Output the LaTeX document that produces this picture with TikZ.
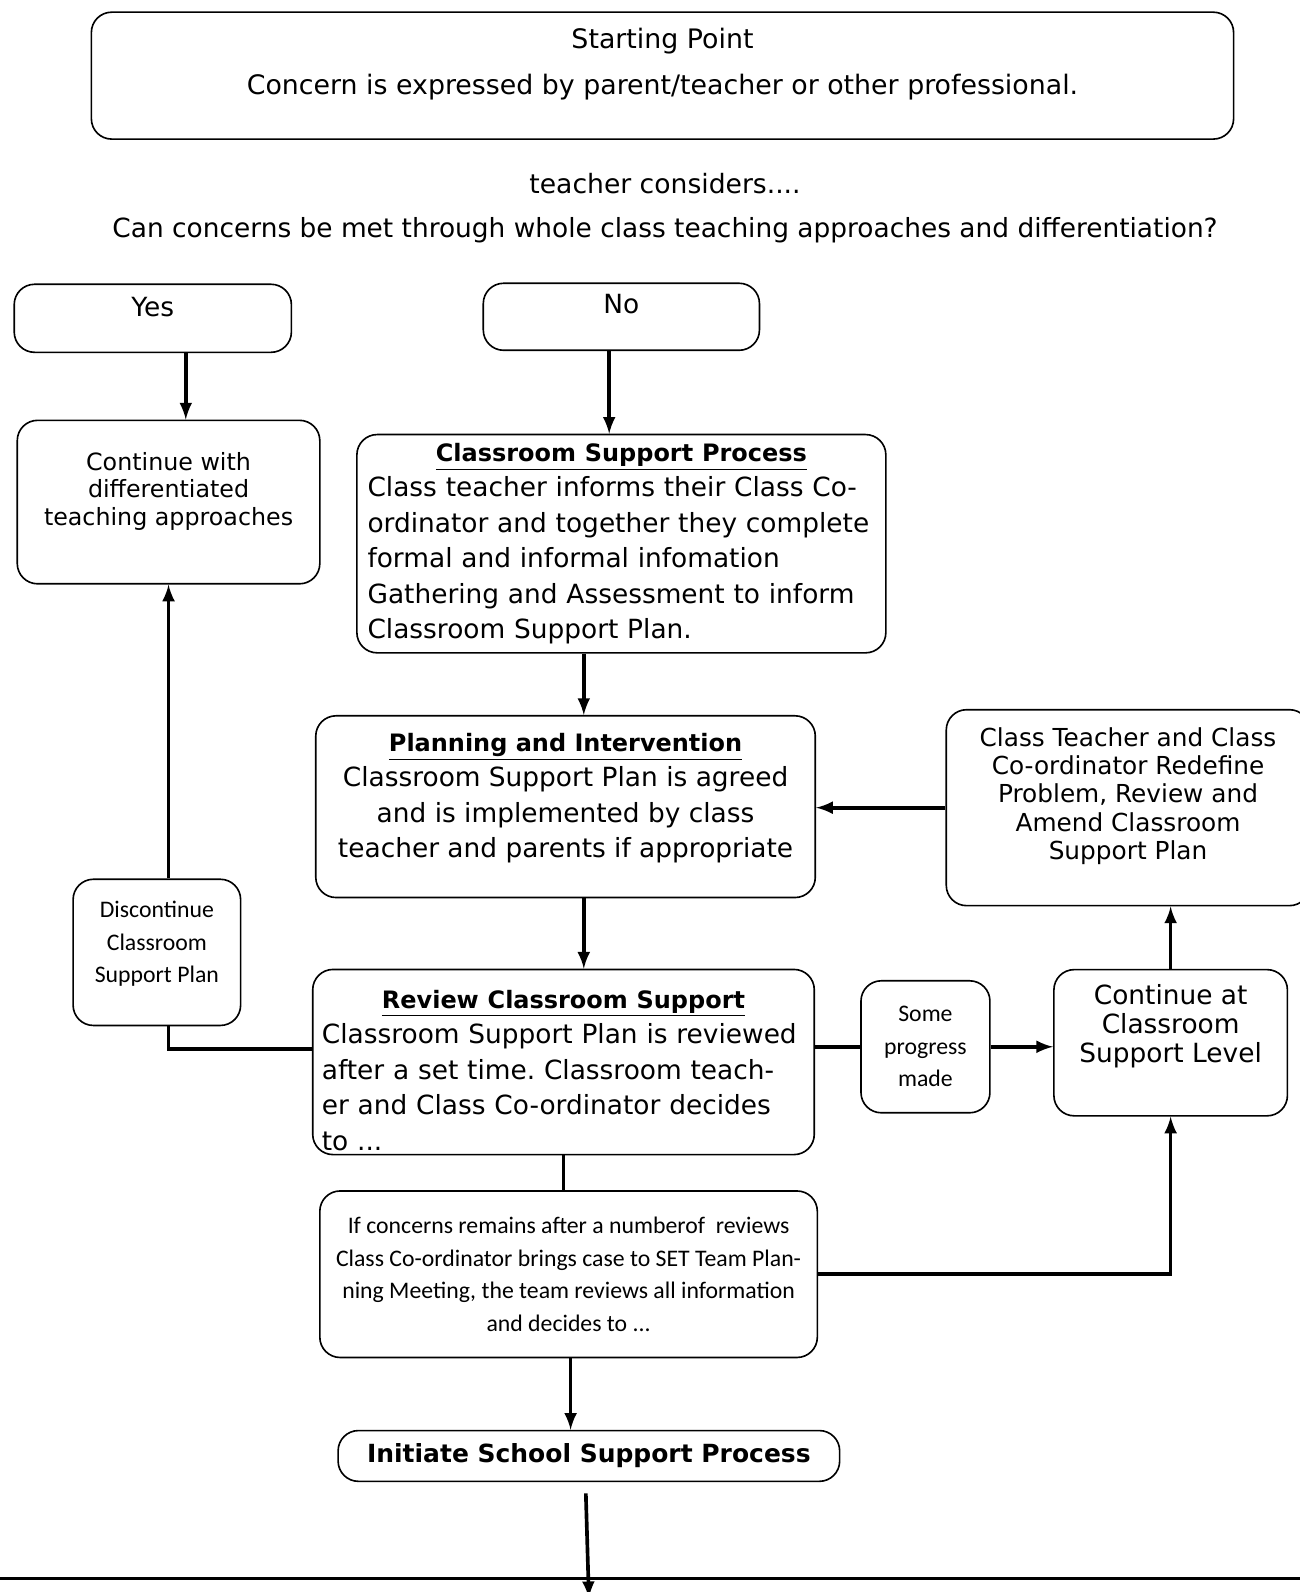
\documentclass[tikz,border=0pt]{standalone}
\usepackage{fontspec}
\setmainfont{DejaVu Sans}
\newfontfamily\carlito{Carlito}
\frenchspacing
\newcommand\heading[1]{\underline{\fontsize{11.8}{17.5}\selectfont\textbf{#1}}}

\tikzset{
  box/.style={draw, line width=0.8pt, rounded corners=10pt, align=center, inner sep=2pt},
  link/.style={line width=1.8pt},
  txt/.style={font=\fontsize{13}{17.5}\selectfont},
  small/.style={font=\carlito\fontsize{11.7}{16}\selectfont},
}

\begin{document}
\begin{tikzpicture}[x=0.5pt, y=-0.5pt, >=latex]
\useasboundingbox (0,0) rectangle (1280,1568);

% question at the top
\node[box, minimum width=562.5pt, minimum height=62.5pt, text depth=14pt,
  font=\fontsize{13.2}{23}\selectfont] (start) at (652.5,74.5)
{Starting Point\\Concern is expressed by parent/teacher or other professional.};
\node[font=\fontsize{13.1}{23}\selectfont] (consider) at (655,181) {teacher considers....};
\node[font=\fontsize{13}{23}\selectfont] (question) at (655,227)
{Can concerns be met through whole class teaching approaches and differentiation?};

\node[box, txt, minimum width=136.5pt, minimum height=33.5pt, text depth=11pt] (yes) at (150.5,313.5) {Yes};
\node[box, txt, minimum width=136pt, minimum height=33pt, text depth=12.5pt] (no) at (612,312) {No};

% main boxes
\node[box, minimum width=149pt, minimum height=80.5pt, text depth=13pt,
  font=\fontsize{11.7}{13.5}\selectfont] (cont) at (166,494.5)
{Continue with\\differentiated\\teaching approaches};

\node[box, txt, minimum width=260.5pt, minimum height=107.5pt, text width=250pt, align=left] (csp) at (612,535.5)
{{\centering\heading{Classroom Support Process}\par}
Class teacher informs their Class Co-\\
ordinator and together they complete\\
formal and informal infomation\\
Gathering and Assessment to inform\\
Classroom Support Plan.};

\node[box, txt, minimum width=246pt, minimum height=89.5pt, text depth=11pt] (pi) at (557,794.5)
{\heading{Planning and Intervention}\\
Classroom Support Plan is agreed\\
and is implemented by class\\
teacher and parents if appropriate};

\node[box, minimum width=179pt, minimum height=96.5pt, text depth=14pt,
  font=\fontsize{12.2}{14}\selectfont] (redef) at (1111,795.5)
{Class Teacher and Class\\Co-ordinator Redefine\\Problem, Review and\\Amend Classroom\\Support Plan};

\node[box, txt, minimum width=247pt, minimum height=87pt, text width=238pt, align=left, text height=17pt] (review) at (555,1046)
{{\centering\heading{Review Classroom Support}\par}
Classroom Support Plan is reviewed\\
after a set time. Classroom teach-\\
er and Class Co-ordinator decides\\
to ...};

\node[box, small, minimum width=82.5pt, minimum height=72pt, text depth=10pt] (disc) at (154.5,938)
{Discontinue\\Classroom\\Support Plan};

\node[box, small, minimum width=63.5pt, minimum height=65pt] (some) at (911.5,1031)
{Some\\progress\\made};

\node[box, minimum width=115pt, minimum height=72pt, text depth=19pt,
  font=\fontsize{13}{14.5}\selectfont] (ccs) at (1153,1027)
{Continue at\\Classroom\\Support Level};

\node[box, small, minimum width=245pt, minimum height=82pt] (set) at (560,1255)
{If concerns remains after a numberof~ reviews\\
Class Co-ordinator brings case to SET Team Plan-\\
ning Meeting, the team reviews all information\\
and decides to ...};

\node[box, minimum width=247pt, minimum height=25pt, font=\bfseries\fontsize{12.3}{13}\selectfont] (init) at (580,1434)
{Initiate School Support Process};

\coordinate (exit) at (580,1574);

% connectors
\draw[link,->] ([xshift=16.25pt]yes.south) -- ([xshift=16.25pt]yes.south |- cont.north);
\draw[link,->] ([xshift=-6pt]no.south) -- ([xshift=-6pt]no.south |- csp.north);
\draw[link,->] ([xshift=-18.5pt]csp.south) -- ([xshift=-18.5pt]csp.south |- pi.north);
\draw[link,->] ([xshift=9pt]pi.south) -- ([xshift=9pt]pi.south |- review.north);
\draw[link,->] (redef.west) -- (redef.west -| pi.east);
\draw[link] ([yshift=6.5pt]review.west) -| (cont.south |- disc.south);
\draw[link,->] (cont.south |- disc.north) -- (cont.south);
\draw[link] (some.west -| review.east) -- (some.west);
\draw[link,->] (some.east) -- (some.east -| ccs.west);
\draw[link,->] (ccs.north) -- (ccs.north |- redef.south);
\draw[link] (review.south) -- (review.south |- set.north);
\draw[link,->] (set.east) -| (ccs.south);
\draw[link,->] ([xshift=1pt]set.south) -- ([xshift=1pt]set.south |- init.north);
\draw[link,->] ([xshift=-1.5pt,yshift=-5.5pt]init.south) -- (exit);

% rule across the page
\draw[line width=1.6pt] (0,1555) -- (1280,1555);

\end{tikzpicture}
\end{document}
